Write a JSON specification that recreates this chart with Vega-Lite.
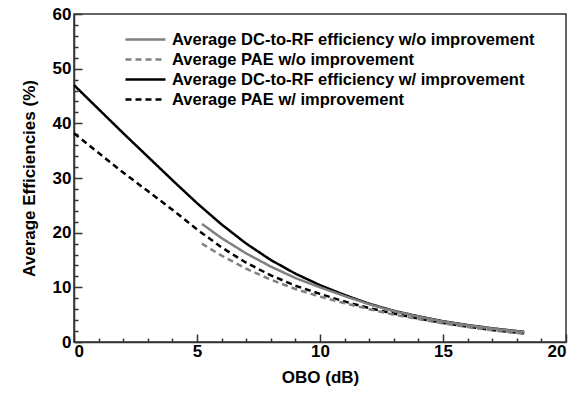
{
  "$schema": "https://vega.github.io/schema/vega-lite/v6.json",
  "width": 492,
  "height": 328,
  "autosize": {"type": "none"},
  "padding": {"left": 74, "top": 14, "right": 13, "bottom": 60},
  "config": {
    "view": {"stroke": "#333", "strokeWidth": 1.5},
    "font": "Liberation Sans",
    "axis": {
      "grid": false,
      "offset": 0,
      "domainColor": "#333",
      "tickColor": "#333",
      "domainWidth": 1.5,
      "tickWidth": 1.5,
      "labelFont": "Liberation Sans",
      "labelFontWeight": "bold",
      "labelFontSize": 17,
      "labelColor": "#000",
      "titleFont": "Liberation Sans",
      "titleFontWeight": "bold",
      "titleFontSize": 17,
      "titleColor": "#000"
    }
  },
  "data": {
    "values": [
      {"series": "Average DC-to-RF efficiency w/ improvement", "obo": 0, "eff": 47.0},
      {"series": "Average DC-to-RF efficiency w/ improvement", "obo": 1, "eff": 42.6},
      {"series": "Average DC-to-RF efficiency w/ improvement", "obo": 2, "eff": 38.2},
      {"series": "Average DC-to-RF efficiency w/ improvement", "obo": 3, "eff": 33.9},
      {"series": "Average DC-to-RF efficiency w/ improvement", "obo": 4, "eff": 29.6},
      {"series": "Average DC-to-RF efficiency w/ improvement", "obo": 5, "eff": 25.4},
      {"series": "Average DC-to-RF efficiency w/ improvement", "obo": 6, "eff": 21.5},
      {"series": "Average DC-to-RF efficiency w/ improvement", "obo": 7, "eff": 18.0},
      {"series": "Average DC-to-RF efficiency w/ improvement", "obo": 8, "eff": 15.0},
      {"series": "Average DC-to-RF efficiency w/ improvement", "obo": 9, "eff": 12.5},
      {"series": "Average DC-to-RF efficiency w/ improvement", "obo": 10, "eff": 10.4},
      {"series": "Average DC-to-RF efficiency w/ improvement", "obo": 11, "eff": 8.6},
      {"series": "Average DC-to-RF efficiency w/ improvement", "obo": 12, "eff": 7.0},
      {"series": "Average DC-to-RF efficiency w/ improvement", "obo": 13, "eff": 5.7},
      {"series": "Average DC-to-RF efficiency w/ improvement", "obo": 14, "eff": 4.7},
      {"series": "Average DC-to-RF efficiency w/ improvement", "obo": 15, "eff": 3.8},
      {"series": "Average DC-to-RF efficiency w/ improvement", "obo": 16, "eff": 3.1},
      {"series": "Average DC-to-RF efficiency w/ improvement", "obo": 17, "eff": 2.5},
      {"series": "Average DC-to-RF efficiency w/ improvement", "obo": 18, "eff": 2.0},
      {"series": "Average DC-to-RF efficiency w/ improvement", "obo": 18.3, "eff": 1.85},

      {"series": "Average PAE w/ improvement", "obo": 0, "eff": 38.2},
      {"series": "Average PAE w/ improvement", "obo": 1, "eff": 34.6},
      {"series": "Average PAE w/ improvement", "obo": 2, "eff": 31.0},
      {"series": "Average PAE w/ improvement", "obo": 3, "eff": 27.6},
      {"series": "Average PAE w/ improvement", "obo": 4, "eff": 24.2},
      {"series": "Average PAE w/ improvement", "obo": 5, "eff": 20.6},
      {"series": "Average PAE w/ improvement", "obo": 6, "eff": 17.3},
      {"series": "Average PAE w/ improvement", "obo": 7, "eff": 14.5},
      {"series": "Average PAE w/ improvement", "obo": 8, "eff": 12.2},
      {"series": "Average PAE w/ improvement", "obo": 9, "eff": 10.3},
      {"series": "Average PAE w/ improvement", "obo": 10, "eff": 8.8},
      {"series": "Average PAE w/ improvement", "obo": 11, "eff": 7.4},
      {"series": "Average PAE w/ improvement", "obo": 12, "eff": 6.2},
      {"series": "Average PAE w/ improvement", "obo": 13, "eff": 5.2},
      {"series": "Average PAE w/ improvement", "obo": 14, "eff": 4.3},
      {"series": "Average PAE w/ improvement", "obo": 15, "eff": 3.5},
      {"series": "Average PAE w/ improvement", "obo": 16, "eff": 2.8},
      {"series": "Average PAE w/ improvement", "obo": 17, "eff": 2.2},
      {"series": "Average PAE w/ improvement", "obo": 18, "eff": 1.7},
      {"series": "Average PAE w/ improvement", "obo": 18.3, "eff": 1.6},

      {"series": "Average DC-to-RF efficiency w/o improvement", "obo": 5.2, "eff": 21.6},
      {"series": "Average DC-to-RF efficiency w/o improvement", "obo": 6, "eff": 19.0},
      {"series": "Average DC-to-RF efficiency w/o improvement", "obo": 7, "eff": 16.2},
      {"series": "Average DC-to-RF efficiency w/o improvement", "obo": 8, "eff": 13.8},
      {"series": "Average DC-to-RF efficiency w/o improvement", "obo": 9, "eff": 11.7},
      {"series": "Average DC-to-RF efficiency w/o improvement", "obo": 10, "eff": 10.0},
      {"series": "Average DC-to-RF efficiency w/o improvement", "obo": 11, "eff": 8.4},
      {"series": "Average DC-to-RF efficiency w/o improvement", "obo": 12, "eff": 6.9},
      {"series": "Average DC-to-RF efficiency w/o improvement", "obo": 13, "eff": 5.65},
      {"series": "Average DC-to-RF efficiency w/o improvement", "obo": 14, "eff": 4.65},
      {"series": "Average DC-to-RF efficiency w/o improvement", "obo": 15, "eff": 3.75},
      {"series": "Average DC-to-RF efficiency w/o improvement", "obo": 16, "eff": 3.05},
      {"series": "Average DC-to-RF efficiency w/o improvement", "obo": 17, "eff": 2.45},
      {"series": "Average DC-to-RF efficiency w/o improvement", "obo": 18, "eff": 1.95},
      {"series": "Average DC-to-RF efficiency w/o improvement", "obo": 18.3, "eff": 1.8},

      {"series": "Average PAE w/o improvement", "obo": 5.2, "eff": 18.0},
      {"series": "Average PAE w/o improvement", "obo": 6, "eff": 15.8},
      {"series": "Average PAE w/o improvement", "obo": 7, "eff": 13.4},
      {"series": "Average PAE w/o improvement", "obo": 8, "eff": 11.4},
      {"series": "Average PAE w/o improvement", "obo": 9, "eff": 9.7},
      {"series": "Average PAE w/o improvement", "obo": 10, "eff": 8.3},
      {"series": "Average PAE w/o improvement", "obo": 11, "eff": 7.1},
      {"series": "Average PAE w/o improvement", "obo": 12, "eff": 6.0},
      {"series": "Average PAE w/o improvement", "obo": 13, "eff": 5.0},
      {"series": "Average PAE w/o improvement", "obo": 14, "eff": 4.2},
      {"series": "Average PAE w/o improvement", "obo": 15, "eff": 3.4},
      {"series": "Average PAE w/o improvement", "obo": 16, "eff": 2.75},
      {"series": "Average PAE w/o improvement", "obo": 17, "eff": 2.15},
      {"series": "Average PAE w/o improvement", "obo": 18, "eff": 1.65},
      {"series": "Average PAE w/o improvement", "obo": 18.3, "eff": 1.55}
    ]
  },
  "layer": [
    {
      "mark": {"type": "line", "strokeWidth": 2.5},
      "encoding": {
        "x": {
          "field": "obo", "type": "quantitative",
          "scale": {"domain": [0, 20], "nice": false},
          "axis": {"orient": "bottom", "values": [0, 5, 10, 15, 20], "tickSize": -8, "labelPadding": 9, "title": "OBO (dB)", "titlePadding": 10}
        },
        "y": {
          "field": "eff", "type": "quantitative",
          "scale": {"domain": [0, 60], "nice": false},
          "axis": {"orient": "left", "values": [0, 10, 20, 30, 40, 50, 60], "tickSize": -8, "labelPadding": 11, "title": "Average Efficiencies (%)", "titlePadding": 14}
        },
        "color": {
          "field": "series", "type": "nominal",
          "scale": {
            "domain": ["Average DC-to-RF efficiency w/o improvement", "Average PAE w/o improvement", "Average DC-to-RF efficiency w/ improvement", "Average PAE w/ improvement"],
            "range": ["#808080", "#808080", "#000000", "#000000"]
          },
          "legend": {
            "orient": "none", "legendX": 60, "legendY": 14, "title": null,
            "symbolType": "M-2,0H2", "symbolSize": 400, "symbolStrokeWidth": 2.5, "symbolFillColor": "transparent",
            "labelFont": "Liberation Sans", "labelFontWeight": "bold", "labelFontSize": 16.5, "labelColor": "#000",
            "labelOffset": 15, "rowPadding": 0, "labelLimit": 600
          }
        },
        "strokeDash": {
          "field": "series", "type": "nominal",
          "scale": {
            "domain": ["Average DC-to-RF efficiency w/o improvement", "Average PAE w/o improvement", "Average DC-to-RF efficiency w/ improvement", "Average PAE w/ improvement"],
            "range": [[1, 0], [6, 4], [1, 0], [6, 4]]
          },
          "legend": {
            "orient": "none", "legendX": 60, "legendY": 14, "title": null,
            "symbolType": "M-2,0H2", "symbolSize": 400, "symbolStrokeWidth": 2.5, "symbolFillColor": "transparent",
            "labelFont": "Liberation Sans", "labelFontWeight": "bold", "labelFontSize": 16.5, "labelColor": "#000",
            "labelOffset": 15, "rowPadding": 0, "labelLimit": 600
          }
        }
      }
    },
    {
      "mark": {"type": "line", "strokeWidth": 0, "opacity": 0},
      "encoding": {
        "x": {
          "field": "obo", "type": "quantitative",
          "axis": {"orient": "bottom", "values": [1, 2, 3, 4, 6, 7, 8, 9, 11, 12, 13, 14, 16, 17, 18, 19], "tickSize": -4, "labels": false, "domain": false, "title": null}
        },
        "y": {
          "field": "eff", "type": "quantitative",
          "axis": {"orient": "left", "values": [2, 4, 6, 8, 12, 14, 16, 18, 22, 24, 26, 28, 32, 34, 36, 38, 42, 44, 46, 48, 52, 54, 56, 58], "tickSize": -4, "labels": false, "domain": false, "title": null}
        },
        "detail": {"field": "series", "type": "nominal"}
      }
    }
  ],
  "resolve": {"axis": {"x": "independent", "y": "independent"}}
}
